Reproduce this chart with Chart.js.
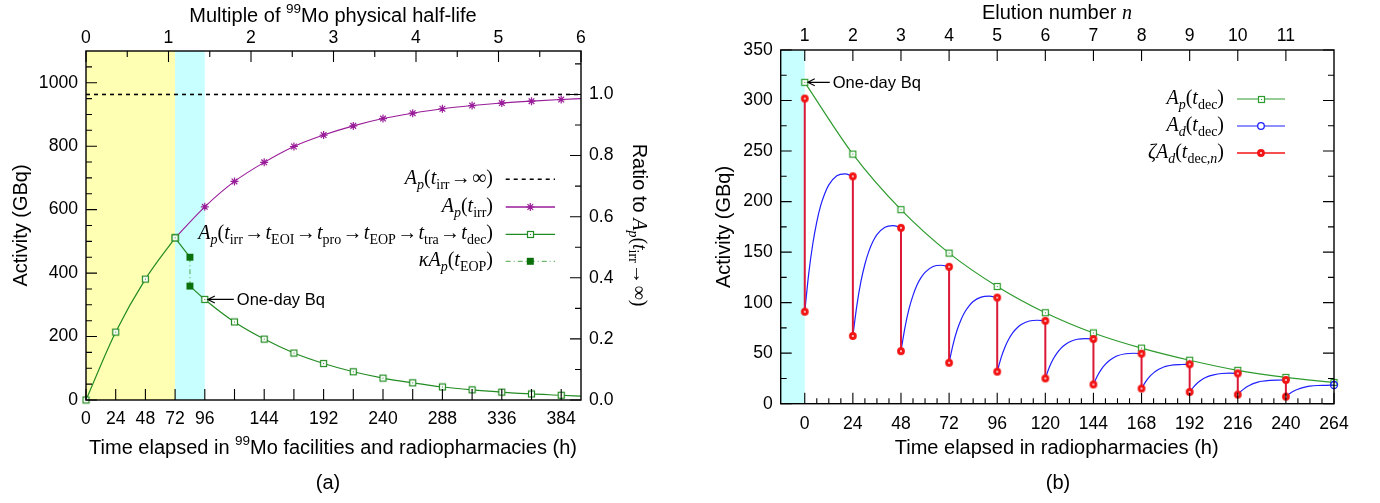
<!DOCTYPE html>
<html>
<head>
<meta charset="utf-8">
<script src="https://cdn.jsdelivr.net/npm/chart.js@4.4.1/dist/chart.umd.min.js"></script>
<style>
html, body { margin: 0; padding: 0; background: #fff; }
#wrap { position: relative; width: 1380px; height: 503px; overflow: hidden; }
canvas { position: absolute; top: 0; }
#chart-a { left: 0; }
#chart-b { left: 690px; }
</style>
</head>
<body>
<div id="wrap">
    <canvas id="chart-a" width="690" height="503"></canvas>
    <canvas id="chart-b" width="690" height="503"></canvas>
</div>
<script>
'use strict';

// ==================== DATA: panel (a) ====================

const aTimeTicks = [0, 24, 48, 72, 96, 120, 144, 168, 192, 216, 240, 264, 288, 312, 336, 360, 384];
const aTimeLabels = [0, 24, 48, 72, 96, 144, 192, 240, 288, 336, 384];
const aHalfLifeTicks = [0, 1, 2, 3, 4, 5, 6];
const aActivityTicks = [0, 200, 400, 600, 800, 1000];
const aRatioTicks = [0, 0.2, 0.4, 0.6, 0.8, 1.0];
const aTimeRange = [0, 400];
const aActivityMax = 1100;

const aShadeIrradiation = [0, 72];
const aShadeTransport = [72, 96];

const aSaturation = 963;                       // A_p(t_irr -> inf)
const aSatT = [72, 96, 120, 144, 168, 192, 216, 240, 264, 288, 312, 336, 360, 384, 400];
const aSatA = [511, 609, 689, 749, 799, 835, 864, 887, 904, 918, 928, 936, 942, 947, 950];

const aIrrT = [0, 24, 48, 72];
const aIrrA = [0, 214, 381, 511];
const aProT = [72, 84];
const aProA = [511, 450];
const aEopT = 84;
const aKappaA = [450, 359];
const aDecT = [84, 96, 120, 144, 168, 192, 216, 240, 264, 288, 312, 336, 360, 384, 400];
const aDecA = [359, 317, 246, 192, 148, 115, 89, 69, 54, 41, 32, 25, 19, 15, 12];
const aOneDayIndex = 1;

// ==================== DATA: panel (b) ====================

const bTimeTicks = [0, 24, 48, 72, 96, 120, 144, 168, 192, 216, 240, 264];
const bElutionNo = [1, 2, 3, 4, 5, 6, 7, 8, 9, 10, 11];
const bActivityTicks = [0, 50, 100, 150, 200, 250, 300, 350];
const bTimeRange = [-12, 264];
const bActivityMax = 350;
const bShade = [-12, 0];

const bParentT = [0, 24, 48, 72, 96, 120, 144, 168, 192, 216, 240, 264];
const bParentA = [318, 247, 192, 149, 116, 90, 70, 55, 43, 33, 26, 21];

const bElutionT = [0, 24, 48, 72, 96, 120, 144, 168, 192, 216, 240];
const bElutedTop = [302, 225, 174, 135.5, 105, 82, 64, 49.5, 39, 30, 23.5];
const bElutedBottom = [91, 67, 52, 40.5, 31.7, 25, 19, 15, 11.6, 9, 7];

const bIngrowthDt = [0, 2, 4, 6, 8, 10, 12, 16, 20, 24];
const bDaughterA = [
    [91, 129, 158, 180, 196.5, 208, 216.5, 225.5, 227.4, 225],
    [67, 97.3, 120.7, 138, 151, 160.5, 167.3, 174.7, 176.3, 174],
    [52, 75.6, 93.8, 107.2, 117.5, 124.7, 130, 135.8, 137, 135.5],
    [40.5, 58.8, 72.9, 83.4, 91.3, 96.9, 101.1, 105.5, 106.4, 105],
    [31.7, 45.9, 56.7, 64.8, 70.9, 75.2, 78.4, 81.8, 82.6, 82],
    [25, 36, 44.4, 50.6, 55.3, 58.6, 61.1, 63.8, 64.3, 64],
    [19, 27.6, 34.2, 39.1, 42.8, 45.4, 47.4, 49.4, 49.9, 49.5],
    [15, 21.6, 26.8, 30.5, 33.4, 35.4, 36.9, 38.5, 38.8, 39],
    [11.6, 16.7, 20.7, 23.7, 25.9, 27.5, 28.6, 29.9, 30.2, 30],
    [9, 12.9, 16.1, 18.3, 20.1, 21.3, 22.2, 23.1, 23.4, 23.5],
    [7, 10.2, 12.5, 14.3, 15.6, 16.6, 17.3, 18, 18.2, 18.5]
];
const bOneDayIndex = 0;

// ==================== STYLE ====================

const SANS = '"Liberation Sans", Arial, Helvetica, sans-serif';
const SERIF = '"Liberation Serif", "Times New Roman", serif';

const C_GREEN_A = '#238b23';
const C_GREEN_B = '#2e9b2e';
const C_KAPPA_LINE = '#4aa84a';
const C_KAPPA_MARK = '#0a700a';
const C_PURPLE = '#991c99';
const C_BLUE = '#1f1fff';
const C_RED_LINE = '#dc1838';
const C_RED_MARK = '#f21414';
const C_YELLOW = '#ffffb3';
const C_CYAN = '#c8ffff';

const RICH = {
    s:   { font: '20px ' + SANS, dy: 0 },
    sup: { font: '13.5px ' + SANS, dy: -8.5 },
    i:   { font: 'italic 20px ' + SERIF, dy: 0 },
    r:   { font: '20px ' + SERIF, dy: 0 },
    ar:  { font: '20px ' + SERIF, dy: 0, pad: 1.3 },
    bi:  { font: 'italic 14px ' + SERIF, dy: 4.5 },
    br:  { font: '14px ' + SERIF, dy: 4.5 }
};

// ==================== HELPERS ====================

function markerSquareDot(color) {
    const c = document.createElement('canvas');
    c.width = 9; c.height = 9;
    const g = c.getContext('2d');
    g.fillStyle = '#fff';
    g.fillRect(1, 1, 7, 7);
    g.strokeStyle = color;
    g.lineWidth = 1.2;
    g.strokeRect(1.5, 1.5, 6, 6);
    g.fillStyle = color;
    g.fillRect(4, 4, 1, 1);
    return c;
}

function markerRedDot() {
    const c = document.createElement('canvas');
    c.width = 10; c.height = 10;
    const g = c.getContext('2d');
    g.fillStyle = C_RED_MARK;
    g.beginPath(); g.arc(5, 5, 3.9, 0, Math.PI * 2); g.fill();
    g.fillStyle = 'rgba(255,255,255,0.85)';
    g.beginPath(); g.arc(5, 5, 1.1, 0, Math.PI * 2); g.fill();
    return c;
}

const sqGreenA = markerSquareDot(C_GREEN_A);
const sqGreenB = markerSquareDot(C_GREEN_B);
const redDot = markerRedDot();

function partWidth(ctx, t, k) {
    ctx.font = RICH[k].font;
    return ctx.measureText(t).width + 2 * (RICH[k].pad || 0);
}

function drawRich(ctx, parts, x, y, align) {
    ctx.save();
    ctx.fillStyle = '#000';
    ctx.textBaseline = 'alphabetic';
    ctx.textAlign = 'left';
    const w = parts.reduce((s, [t, k]) => s + partWidth(ctx, t, k), 0);
    let cx = align === 'right' ? x - w : align === 'center' ? x - w / 2 : x;
    parts.forEach(([t, k]) => {
        const pw = partWidth(ctx, t, k);
        ctx.fillText(t, cx + (RICH[k].pad || 0), y + RICH[k].dy);
        cx += pw;
    });
    ctx.restore();
}

function drawRotated(ctx, parts, x, y, angle) {
    ctx.save();
    ctx.translate(x, y);
    ctx.rotate(angle);
    drawRich(ctx, parts, 0, 0, 'center');
    ctx.restore();
}

function axis(position, range, ticks, label, padding, fit) {
    return {
        type: 'linear',
        position: position,
        min: range[0],
        max: range[1],
        grid: { display: false, drawTicks: false },
        border: { display: false },
        ticks: {
            color: '#000',
            font: { family: SANS, size: 17.6 },
            padding: padding,
            autoSkip: false,
            maxRotation: 0,
            minRotation: 0,
            callback: label
        },
        afterBuildTicks: sc => { sc.ticks = ticks.map(v => ({ value: v })); },
        afterFit: fit
    };
}

// frame + inward ticks (gnuplot style)
function drawFrame(chart, specs) {
    const { ctx, chartArea: a } = chart;
    ctx.save();
    ctx.strokeStyle = '#000';
    ctx.lineWidth = 1.1;
    ctx.beginPath();
    specs.forEach(s => {
        const sc = chart.scales[s.scale];
        const add = (v, len) => {
            const p = sc.getPixelForValue(v);
            if (s.edge === 'bottom') { ctx.moveTo(p, a.bottom); ctx.lineTo(p, a.bottom - len); }
            if (s.edge === 'top') { ctx.moveTo(p, a.top); ctx.lineTo(p, a.top + len); }
            if (s.edge === 'left') { ctx.moveTo(a.left, p); ctx.lineTo(a.left + len, p); }
            if (s.edge === 'right') { ctx.moveTo(a.right, p); ctx.lineTo(a.right - len, p); }
        };
        s.major.forEach(v => add(v, s.len));
        if (s.minorStep) {
            for (let v = s.minorFrom; v <= s.minorTo + 1e-9; v += s.minorStep) {
                if (!s.major.some(m => Math.abs(m - v) < 1e-9)) add(v, s.minorLen);
            }
        }
    });
    ctx.stroke();
    ctx.lineWidth = 1.4;
    ctx.strokeRect(a.left, a.top, a.right - a.left, a.bottom - a.top);
    ctx.restore();
}

function shade(chart, bounds, color) {
    const { ctx, chartArea: a, scales: { x } } = chart;
    const x0 = Math.max(a.left, x.getPixelForValue(bounds[0]));
    const x1 = x.getPixelForValue(bounds[1]);
    ctx.save();
    ctx.fillStyle = color;
    ctx.fillRect(x0, a.top, x1 - x0, a.bottom - a.top);
    ctx.restore();
}

function drawOneDay(chart, t, v, textDx) {
    const ctx = chart.ctx;
    const x = chart.scales.x.getPixelForValue(t);
    const y = chart.scales.y.getPixelForValue(v);
    ctx.save();
    ctx.strokeStyle = '#000';
    ctx.lineWidth = 1.1;
    ctx.beginPath();
    ctx.moveTo(x + 3, y); ctx.lineTo(x + textDx - 3, y);
    ctx.moveTo(x + 10, y - 3.5); ctx.lineTo(x + 3, y); ctx.lineTo(x + 10, y + 3.5);
    ctx.stroke();
    ctx.fillStyle = '#000';
    ctx.font = '16.5px ' + SANS;
    ctx.textBaseline = 'alphabetic';
    ctx.fillText('One-day Bq', x + textDx, y + 5.8);
    ctx.restore();
}

function drawLegend(ctx, rows, textRight, lx0, lx1, mx) {
    rows.forEach(r => {
        drawRich(ctx, r.parts, textRight, r.y + 5, 'right');
        ctx.save();
        ctx.strokeStyle = r.color;
        ctx.lineWidth = r.width;
        ctx.setLineDash(r.dash || []);
        ctx.beginPath(); ctx.moveTo(lx0, r.y); ctx.lineTo(lx1, r.y); ctx.stroke();
        ctx.restore();
        if (r.marker) r.marker(ctx, mx, r.y);
    });
}

const imgMarker = img => (ctx, x, y) => ctx.drawImage(img, Math.round(x - img.width / 2), Math.round(y - img.height / 2));

function starMarker(ctx, x, y) {
    ctx.save();
    ctx.strokeStyle = C_PURPLE;
    ctx.lineWidth = 1.2;
    ctx.beginPath();
    for (let k = 0; k < 4; k++) {
        const ang = k * Math.PI / 4;
        ctx.moveTo(x - 4 * Math.cos(ang), y - 4 * Math.sin(ang));
        ctx.lineTo(x + 4 * Math.cos(ang), y + 4 * Math.sin(ang));
    }
    ctx.stroke();
    ctx.restore();
}

function baseOptions() {
    return {
        responsive: false,
        animation: false,
        devicePixelRatio: 1,
        events: [],
        plugins: { legend: { display: false }, tooltip: { enabled: false } }
    };
}

const pts = (ts, vs) => ts.map((t, i) => ({ x: t, y: vs[i] }));
const gap = t => ({ x: t, y: null });

// ==================== PANEL (a) ====================

const aGreen = [].concat(
    pts(aIrrT, aIrrA), [gap(aIrrT[aIrrT.length - 1])],
    pts(aProT, aProA), [gap(aEopT)],
    pts(aDecT, aDecA)
);

const sub = t => [t, 'br'];
const arrow = ['\u2192', 'ar'];
const legendA = [
    { y: 179.3, color: '#000', width: 1.6, dash: [4, 4],
      parts: [['A', 'i'], ['p', 'bi'], ['(', 'r'], ['t', 'i'], sub('irr'), arrow, ['\u221e', 'r'], [')', 'r']] },
    { y: 207, color: C_PURPLE, width: 1.3, marker: starMarker,
      parts: [['A', 'i'], ['p', 'bi'], ['(', 'r'], ['t', 'i'], sub('irr'), [')', 'r']] },
    { y: 234.3, color: C_GREEN_A, width: 1.2, marker: imgMarker(sqGreenA),
      parts: [['A', 'i'], ['p', 'bi'], ['(', 'r'], ['t', 'i'], sub('irr'), arrow, ['t', 'i'], sub('EOI'),
              arrow, ['t', 'i'], sub('pro'), arrow, ['t', 'i'], sub('EOP'),
              arrow, ['t', 'i'], sub('tra'), arrow, ['t', 'i'], sub('dec'), [')', 'r']] },
    { y: 261.3, color: C_KAPPA_LINE, width: 1, dash: [5, 3, 1, 3],
      marker: (ctx, x, y) => { ctx.fillStyle = C_KAPPA_MARK; ctx.fillRect(x - 3.5, y - 3.5, 7, 7); },
      parts: [['\u03ba', 'i'], ['A', 'i'], ['p', 'bi'], ['(', 'r'], ['t', 'i'], sub('EOP'), [')', 'r']] }
];

const specsA = [
    { scale: 'x', edge: 'bottom', major: aTimeTicks, len: 11 },
    { scale: 'x2', edge: 'top', major: aHalfLifeTicks, len: 11, minorStep: 0.5, minorFrom: 0.5, minorTo: 5.5, minorLen: 6 },
    { scale: 'y', edge: 'left', major: aActivityTicks, len: 11, minorStep: 50, minorFrom: 50, minorTo: 1050, minorLen: 6 },
    { scale: 'y2', edge: 'right', major: aRatioTicks, len: 11, minorStep: 0.1, minorFrom: 0.1, minorTo: 1.1, minorLen: 6 }
];

const optsA = baseOptions();
optsA.scales = {
    x: axis('bottom', aTimeRange, aTimeTicks, v => aTimeLabels.includes(v) ? String(v) : '', 9, s => { s.height = 103; }),
    x2: axis('top', [0, 6], aHalfLifeTicks, v => String(v), 2, s => { s.height = 51; }),
    y: axis('left', [0, aActivityMax], aActivityTicks, v => String(v), 8, s => { s.width = 86; }),
    y2: axis('right', [0, aActivityMax / aSaturation], aRatioTicks, v => v.toFixed(1), 8, s => { s.width = 109; })
};

new Chart(document.getElementById('chart-a'), {
    type: 'line',
    data: {
        datasets: [
            {
                data: [{ x: aEopT, y: aKappaA[0] }, { x: aEopT, y: aKappaA[1] }],
                borderColor: C_KAPPA_LINE, borderWidth: 1, borderDash: [5, 3, 1, 3],
                pointStyle: 'rect', pointRadius: 4.9,
                pointBackgroundColor: C_KAPPA_MARK, pointBorderColor: C_KAPPA_MARK, pointBorderWidth: 0,
                clip: false
            },
            {
                data: aGreen,
                borderColor: C_GREEN_A, borderWidth: 1.2,
                cubicInterpolationMode: 'monotone', spanGaps: false,
                pointStyle: sqGreenA,
                pointRadius: c => (c.raw && c.raw.y !== null && c.raw.x % 24 === 0) ? 4 : 0,
                clip: false
            },
            {
                data: pts(aSatT, aSatA),
                borderColor: C_PURPLE, borderWidth: 1.1,
                cubicInterpolationMode: 'monotone',
                pointStyle: 'star',
                pointRadius: c => (c.raw && c.raw.x % 24 === 0 && c.raw.x > aIrrT[aIrrT.length - 1]) ? 4 : 0,
                pointBorderColor: C_PURPLE, pointBackgroundColor: C_PURPLE, pointBorderWidth: 1.2,
                clip: false
            },
            {
                data: [{ x: aTimeRange[0], y: aSaturation }, { x: aTimeRange[1], y: aSaturation }],
                borderColor: '#000', borderWidth: 1.6, borderDash: [4, 4], pointRadius: 0
            }
        ]
    },
    options: optsA,
    plugins: [{
        id: 'panelA',
        beforeDatasetsDraw(chart) {
            shade(chart, aShadeIrradiation, C_YELLOW);
            shade(chart, aShadeTransport, C_CYAN);
        },
        afterDatasetsDraw(chart) {
            drawFrame(chart, specsA);
        },
        afterDraw(chart) {
            const ctx = chart.ctx;
            drawRich(ctx, [['Multiple of ', 's'], ['99', 'sup'], ['Mo physical half-life', 's']], 333, 21.5, 'center');
            drawRich(ctx, [['Time elapsed in ', 's'], ['99', 'sup'], ['Mo facilities and radiopharmacies (h)', 's']], 333, 453.5, 'center');
            drawRich(ctx, [['(a)', 's']], 328, 489, 'center');
            drawRotated(ctx, [['Activity (GBq)', 's']], 27, 225.5, -Math.PI / 2);
            drawRotated(ctx, [['Ratio to ', 's'], ['A', 'i'], ['p', 'bi'], ['(', 'r'], ['t', 'i'], ['irr', 'br'],
                              arrow, ['\u221e', 'r'], [')', 'r']], 633, 225, Math.PI / 2);
            drawLegend(ctx, legendA, 493, 505.7, 555, 530.3);
            drawOneDay(chart, aDecT[aOneDayIndex], aDecA[aOneDayIndex], 32);
        }
    }]
});

// ==================== PANEL (b) ====================

const bRed = [];
bElutionT.forEach((t, i) => {
    bRed.push({ x: t, y: bElutedTop[i] }, { x: t, y: bElutedBottom[i] }, gap(t));
});

const bBlue = [];
bElutionT.forEach((t, i) => {
    bIngrowthDt.forEach((dt, j) => bBlue.push({ x: t + dt, y: bDaughterA[i][j] }));
    bBlue.push(gap(t + bIngrowthDt[bIngrowthDt.length - 1]));
});

const legendB = [
    { y: 99, color: C_GREEN_B, width: 1.2, marker: imgMarker(sqGreenB),
      parts: [['A', 'i'], ['p', 'bi'], ['(', 'r'], ['t', 'i'], ['dec', 'br'], [')', 'r']] },
    { y: 126, color: C_BLUE, width: 1.2,
      marker: (ctx, x, y) => {
          ctx.save(); ctx.strokeStyle = C_BLUE; ctx.fillStyle = '#fff'; ctx.lineWidth = 1.3;
          ctx.beginPath(); ctx.arc(x, y, 3.3, 0, Math.PI * 2); ctx.fill(); ctx.stroke(); ctx.restore();
      },
      parts: [['A', 'i'], ['d', 'bi'], ['(', 'r'], ['t', 'i'], ['dec', 'br'], [')', 'r']] },
    { y: 153, color: C_RED_MARK, width: 1.6, marker: imgMarker(redDot),
      parts: [['\u03b6', 'i'], ['A', 'i'], ['d', 'bi'], ['(', 'r'], ['t', 'i'], ['dec,', 'br'], ['n', 'bi'], [')', 'r']] }
];

const specsB = [
    { scale: 'x', edge: 'bottom', major: bTimeTicks, len: 11, minorStep: 6, minorFrom: 0, minorTo: 264, minorLen: 5.5 },
    { scale: 'x2', edge: 'top', major: bElutionNo, len: 11 },
    { scale: 'y', edge: 'left', major: bActivityTicks, len: 11, minorStep: 50, minorFrom: 25, minorTo: 325, minorLen: 6 },
    { scale: 'y', edge: 'right', major: bActivityTicks, len: 11, minorStep: 50, minorFrom: 25, minorTo: 325, minorLen: 6 }
];

const optsB = baseOptions();
optsB.layout = { padding: { right: 46 } };
optsB.scales = {
    x: axis('bottom', bTimeRange, bTimeTicks, v => String(v), 10, s => { s.height = 99.3; }),
    x2: axis('top', [bTimeRange[0] / 24 + 1, bTimeRange[1] / 24 + 1], bElutionNo, v => String(v), 3, s => { s.height = 50; }),
    y: axis('left', [0, bActivityMax], bActivityTicks, v => String(v), 8, s => { s.width = 90.7; })
};

new Chart(document.getElementById('chart-b'), {
    type: 'line',
    data: {
        datasets: [
            {
                data: bRed,
                borderColor: C_RED_LINE, borderWidth: 2, spanGaps: false,
                pointStyle: redDot,
                pointRadius: c => (c.raw && c.raw.y !== null) ? 4 : 0,
                clip: false
            },
            {
                data: bBlue,
                borderColor: C_BLUE, borderWidth: 1.2,
                cubicInterpolationMode: 'monotone', spanGaps: false,
                pointStyle: 'circle',
                pointRadius: c => (c.raw && c.raw.x === bTimeRange[1] && c.raw.y !== null) ? 3.5 : 0,
                pointBorderColor: C_BLUE, pointBackgroundColor: 'rgba(255,255,255,0)', pointBorderWidth: 1.3,
                clip: false
            },
            {
                data: pts(bParentT, bParentA),
                borderColor: C_GREEN_B, borderWidth: 1.2,
                cubicInterpolationMode: 'monotone',
                pointStyle: sqGreenB, pointRadius: 4,
                clip: false
            }
        ]
    },
    options: optsB,
    plugins: [{
        id: 'panelB',
        beforeDatasetsDraw(chart) {
            shade(chart, bShade, C_CYAN);
        },
        afterDatasetsDraw(chart) {
            drawFrame(chart, specsB);
        },
        afterDraw(chart) {
            const ctx = chart.ctx;
            drawRich(ctx, [['Elution number ', 's'], ['n', 'i']], 367, 18.5, 'center');
            drawRich(ctx, [['Time elapsed in radiopharmacies (h)', 's']], 366.7, 454, 'center');
            drawRich(ctx, [['(b)', 's']], 368, 489, 'center');
            drawRotated(ctx, [['Activity (GBq)', 's']], 40, 227, -Math.PI / 2);
            drawLegend(ctx, legendB, 534, 547, 595, 571);
            drawOneDay(chart, bParentT[bOneDayIndex], bParentA[bOneDayIndex], 28);
        }
    }]
});
</script>
</body>
</html>
